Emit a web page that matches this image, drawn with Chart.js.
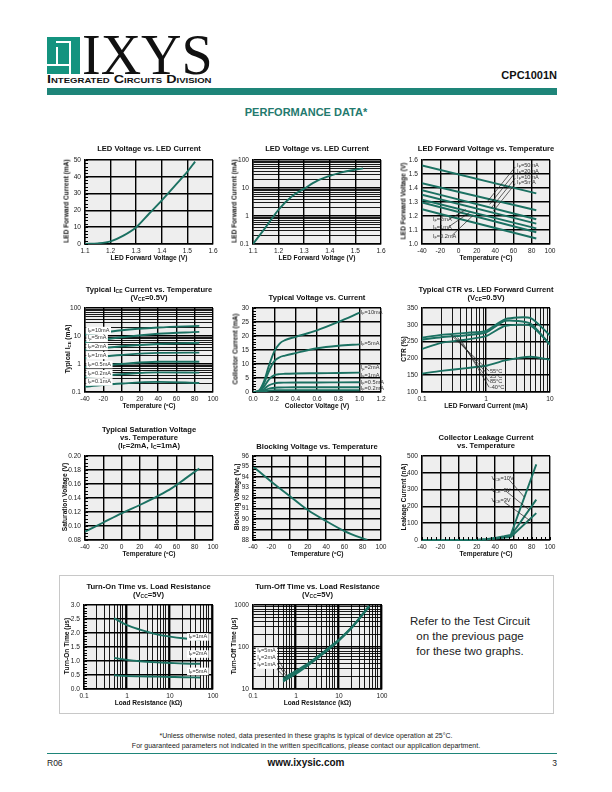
<!DOCTYPE html>
<html><head><meta charset="utf-8">
<title>CPC1001N Performance Data</title>
<script src="https://cdn.jsdelivr.net/npm/chart.js@4.4.1/dist/chart.umd.min.js"></script>
<style>
html,body{margin:0;padding:0}
body{width:612px;height:792px;position:relative;background:#fff;font-family:'Liberation Sans',Arial,Helvetica,sans-serif;overflow:hidden;color:#111}
.a{position:absolute;white-space:nowrap}
.ttl{font-weight:bold;font-size:7.6px;line-height:8.2px;text-align:center;transform:translateX(-50%)}
.xt{font-weight:bold;font-size:6.6px;transform:translate(-50%,-50%)}
.yt{font-weight:bold;font-size:6.6px;transform:translate(-50%,-50%) rotate(-90deg)}
sub{font-size:65%;vertical-align:-0.25em;line-height:0}
canvas{position:absolute}
.w{position:absolute;background:#fff}
</style></head><body>
<div class="a" id="logo" style="left:47px;top:37px;width:33px;height:37px;background:#14937f">
  <div class="w" style="left:9px;top:10px;width:2px;height:18px"></div>
  <div class="w" style="left:0px;top:27px;width:24px;height:2px"></div>
  <div class="w" style="left:22px;top:4px;width:2px;height:33px"></div>
  <div class="w" style="left:9px;top:4px;width:15px;height:2px"></div>
</div>
<div class="a" style="left:82px;top:27px;font-family:'Liberation Serif','Times New Roman',serif;font-size:56px;line-height:56px;color:#111">IXYS</div>
<div class="a" id="icd" style="left:47px;top:73px;font-weight:bold;font-size:10.5px;font-variant:small-caps;color:#111;transform-origin:left top">Integrated Circuits Division</div>
<div class="a" style="right:55px;top:69px;font-weight:bold;font-size:11px;color:#111">CPC1001N</div>
<div class="a" style="left:47px;top:88px;width:510px;height:7px;background:#1e8579"></div>
<div class="a" style="left:306px;top:106px;transform:translateX(-50%);font-weight:bold;font-size:11px;color:#237a6e">PERFORMANCE DATA*</div>

<div class="a" style="left:59px;top:575px;width:493px;height:137px;border:1px solid #c8c8c8"></div>
<div class="a" style="left:470px;top:614px;transform:translateX(-50%);text-align:center;font-size:11.5px;line-height:15px;color:#222">Refer to the Test Circuit<br>on the previous page<br>for these two graphs.</div>

<div class="a" style="left:306px;top:731px;transform:translateX(-50%);text-align:center;font-size:7px;line-height:10px;color:#222">*Unless otherwise noted, data presented in these graphs is typical of device operation at 25°C.<br>For guaranteed parameters not indicated in the written specifications, please contact our application department.</div>
<div class="a" style="left:47px;top:753px;width:510px;height:1px;background:#1e8579"></div>
<div class="a" style="left:47px;top:758px;font-size:8.5px;color:#222">R06</div>
<div class="a" style="left:306px;top:757px;transform:translateX(-50%);font-weight:bold;font-size:10px;color:#111">www.ixysic.com</div>
<div class="a" style="right:55px;top:758px;font-size:8.5px;color:#222">3</div>

<script>
// ================= DATA =================
// LED Voltage vs. LED Current (linear and log views)
const ledVoltage    = [1.1, 1.15, 1.2, 1.25, 1.3, 1.35, 1.4, 1.45, 1.5, 1.53];
const ledCurrent    = [0.1, 0.4, 1.6, 5, 10, 18, 26, 34.5, 43, 49];
const ledCurrentLog = [0.1, 0.4, 1.7, 4.9, 9.5, 18, 27, 37, 45, 50];

// LED Forward Voltage vs. Temperature
const vfTemp   = [-40, 85];
const vf50mA   = [1.561, 1.361];
const vf20mA   = [1.434, 1.241];
const vf10mA   = [1.384, 1.177];
const vf5mA    = [1.352, 1.145];
const vf2mA    = [1.316, 1.111];
const vf1mA    = [1.296, 1.084];
const vf02mA   = [1.248, 1.039];
const vfLabels = ['I{F}=50mA','I{F}=20mA','I{F}=10mA','I{F}=5mA','I{F}=2mA','I{F}=1mA','I{F}=0.2mA'];

// Typical ICE vs. Temperature
const iceTemp  = [-40, 0, 40, 85];
const ice10mA  = [11, 16, 20, 23];
const ice5mA   = [6, 9, 12, 14];
const ice2mA   = [3.2, 4.3, 5.2, 5.7];
const ice1mA   = [1.6, 2.1, 2.5, 2.55];
const ice05mA  = [0.77, 1.0, 1.2, 1.2];
const ice02mA  = [0.34, 0.43, 0.5, 0.49];
const ice01mA  = [0.155, 0.2, 0.23, 0.21];
const iceLabels = ['I{F}=10mA','I{F}=5mA','I{F}=2mA','I{F}=1mA','I{F}=0.5mA','I{F}=0.2mA','I{F}=0.1mA'];

// Typical Voltage vs. Current
const vceVolt  = [0, 0.05, 0.1, 0.15, 0.2, 0.25, 0.3, 0.4, 0.6, 0.8, 1.0];
const ic10mA   = [0, 0.3, 3.5, 9.5, 14.5, 17.3, 18.5, 19.7, 22, 25, 28.3];
const ic5mA    = [0, 0.3, 2.8, 7.5, 11, 12.4, 13, 13.9, 15.6, 16.5, 17];
const ic2mA    = [0, 0.2, 1.8, 4.5, 6.0, 6.4, 6.5, 6.6, 6.7, 6.8, 6.9];
const ic1mA    = [0, 0.1, 1.0, 2.4, 3.1, 3.3, 3.35, 3.4, 3.4, 3.45, 3.5];
const ic05mA   = [0, 0.05, 0.5, 1.2, 1.5, 1.6, 1.65, 1.7, 1.7, 1.7, 1.7];
const ic02mA   = [0, 0.02, 0.2, 0.5, 0.6, 0.65, 0.65, 0.65, 0.65, 0.65, 0.65];
const icLabels = ['I{F}=10mA','I{F}=5mA','I{F}=2mA','I{F}=1mA','I{F}=0.5mA','I{F}=0.2mA'];

// Typical CTR vs. LED Forward Current
const ctrIf    = [0.1, 0.2, 0.5, 1, 2, 5, 10];
const ctr55C   = [262, 270, 276, 282, 317, 320, 268];
const ctr25C   = [256, 263, 269, 277, 312, 303, 240];
const ctr85C   = [228, 246, 256, 266, 297, 297, 242];
const ctrM40C  = [155, 163, 171, 178, 194, 205, 196];
const ctrLabels = ['55°C','25°C','85°C','-40°C'];

// Typical Saturation Voltage vs. Temperature
const satTemp  = [-40, -20, 0, 20, 40, 55, 70, 85];
const satVolt  = [0.092, 0.105, 0.118, 0.13, 0.143, 0.154, 0.168, 0.182];

// Blocking Voltage vs. Temperature
const blkTemp  = [-40, -20, 0, 20, 40, 60, 80, 85];
const blkVolt  = [95, 93.55, 92.2, 90.85, 89.8, 88.85, 88.15, 88];

// Collector Leakage Current vs. Temperature
const lkTemp   = [-40, 0, 20, 30, 40, 50, 57, 85];
const lk10V    = [0, 0, 1, 5, 12, 22, 30, 450];
const lk5V     = [0, 0, 1, 4, 10, 18, 24, 240];
const lk3V     = [0, 0, 0.5, 3, 8, 14, 18, 160];
const lkLabels = ['V{CE}=10V','V{CE}=5V','V{CE}=3V'];

// Turn-On / Turn-Off Time vs. Load Resistance
const loadR    = [0.5, 1, 2, 5, 10, 20, 50];
const ton1mA   = [2.53, 2.28, 2.12, 1.95, 1.87, 1.81, 1.76];
const ton2mA   = [1.11, 1.04, 0.99, 0.95, 0.93, 0.91, 0.9];
const ton5mA   = [0.49, 0.46, 0.45, 0.44, 0.43, 0.42, 0.41];
const toff5mA  = [18, 27, 42, 85, 150, 300, 950];
const toff2mA  = [16.5, 25, 40, 82, 147, 295, 930];
const toff1mA  = [15, 23, 38, 78, 143, 290, 900];
const tLabels  = ['I{F}=1mA','I{F}=2mA','I{F}=5mA'];

// log-axis tick labels
const logLabels01to100  = [0.1, 1, 10, 100];
const logLabels01to10   = [0.1, 1, 10];
const logLabels10to1000 = [10, 100, 1000];

// ================= RENDERING =================
const FONT = "'Liberation Sans', Arial, Helvetica, sans-serif";
const TEAL = '#1b7162';
Chart.defaults.font.family = FONT;
Chart.defaults.color = '#222';

function pts(xs, ys){ return xs.map((x,i)=>({x:x, y:ys[i]})); }
function richParse(str){ const out=[]; const re=/([^{}]+)|\{([^}]*)\}/g; let m; while((m=re.exec(str))){ if(m[1]!==undefined) out.push({t:m[1],sub:false}); else out.push({t:m[2],sub:true}); } return out; }
function richHTML(str){ return str.replace(/\{([^}]*)\}/g,'<sub>$1</sub>'); }
function addDiv(cls, html, x, y){ const d=document.createElement('div'); d.className=cls; d.innerHTML=html; d.style.left=x+'px'; d.style.top=y+'px'; document.body.appendChild(d); return d; }

function drawRich(ctx, str, x, y, size, align, box){
  const segs=richParse(str);
  const fN=size+'px '+FONT, fS=(size*0.68).toFixed(2)+'px '+FONT;
  let w=0; segs.forEach(s=>{ctx.font=s.sub?fS:fN; s.w=ctx.measureText(s.t).width; w+=s.w;});
  let cx = align==='right'? x-w : align==='center'? x-w/2 : x;
  if(box){ ctx.fillStyle='#fff'; ctx.fillRect(cx-1.5, y-size*0.62, w+3, size*1.35); }
  ctx.fillStyle='#333'; ctx.textBaseline='middle'; ctx.textAlign='left';
  segs.forEach(s=>{ ctx.font=s.sub?fS:fN; ctx.fillText(s.t, cx, s.sub? y+size*0.28 : y); cx+=s.w; });
}

const plotBg = { id:'plotBg', beforeDraw(chart){ const a=chart.chartArea, c=chart.ctx; c.save(); c.fillStyle='#eeeeee'; c.fillRect(a.left,a.top,a.right-a.left,a.bottom-a.top); c.restore(); } };

const notes = { id:'notes', afterDatasetsDraw(chart, args, o){
  const c=chart.ctx, X=chart.scales.x, Y=chart.scales.y, a=chart.chartArea;
  c.save();
  c.strokeStyle='#000'; c.lineWidth=1;
  if(o.minorY){ for(let v=Y.min; v<=Y.max+1e-9; v+=o.minorY){ const p=Math.round(Y.getPixelForValue(v))+0.5; c.beginPath(); c.moveTo(a.left,p); c.lineTo(a.left+3,p); c.stroke(); } }
  if(o.minorX){ for(let v=X.min; v<=X.max+1e-9; v+=o.minorX){ const p=Math.round(X.getPixelForValue(v))+0.5; c.beginPath(); c.moveTo(p,a.bottom); c.lineTo(p,a.bottom-3); c.stroke(); } }
  c.lineWidth=0.7; c.strokeStyle='#222';
  (o.lines||[]).forEach(l=>{ c.beginPath(); c.moveTo(X.getPixelForValue(l[0]),Y.getPixelForValue(l[1])); c.lineTo(X.getPixelForValue(l[2]),Y.getPixelForValue(l[3])); c.stroke(); });
  (o.texts||[]).forEach(t=>{ drawRich(c, t[2], X.getPixelForValue(t[0]), Y.getPixelForValue(t[1]), o.size||5.6, t[3]||'left', o.box); });
  c.restore();
}};

const tickFont = {size:6.6, family:FONT};
function fitX(s){ s.height=14; }
function fitY(s){ s.width=26; }
function linAxis(axis, min, max, step, dec){
  return { type:'linear', min:min, max:max,
    ticks:{ stepSize:step, autoSkip:false, maxRotation:0, font:tickFont, color:'#222', padding: axis==='x'?3:4, callback:(v)=>Number(v).toFixed(dec) },
    grid:{ color:'#000', lineWidth:1.4, drawTicks:false },
    border:{ display:true, color:'#000', width:1.4 },
    afterFit: axis==='x'? fitX : fitY };
}
function logAxis(axis, min, max, labels){
  const find=(v)=>labels.find(l=>Math.abs(l-v)<=l*1e-6);
  return { type:'logarithmic', min:min, max:max,
    afterBuildTicks:(s)=>{ const t=[]; for(let e=Math.round(Math.log10(min)); e<Math.round(Math.log10(max)); e++){ for(let k=1;k<10;k++) t.push({value:+(k*Math.pow(10,e)).toPrecision(6)}); } t.push({value:max}); s.ticks=t; },
    ticks:{ autoSkip:false, maxRotation:0, font:tickFont, color:'#222', padding: axis==='x'?3:4, callback:(v)=>{ const l=find(v); return l===undefined?'':String(l); } },
    grid:{ color:'#000', lineWidth:(ctx)=> (ctx.tick && find(ctx.tick.value)!==undefined)?1.4:0.9, drawTicks:false },
    border:{ display:true, color:'#000', width:1.4 },
    afterFit: axis==='x'? fitX : fitY };
}
function ds(xs, ys, extra){ return Object.assign({ data:pts(xs,ys), borderColor:TEAL, borderWidth:1.9, pointRadius:0, fill:false, tension:0.35, cubicInterpolationMode:'monotone' }, extra||{}); }

function makeChart(d){
  const [x0,y0,x1,y1]=d.plot; const L=26, T=6, R=10, B=14;
  const cv=document.createElement('canvas');
  cv.width=(x1-x0)+L+R; cv.height=(y1-y0)+T+B;
  cv.style.left=(x0-L)+'px'; cv.style.top=(y0-T)+'px';
  cv.style.width=cv.width+'px'; cv.style.height=cv.height+'px';
  document.body.appendChild(cv);
  new Chart(cv, { type:'line', data:{datasets:d.datasets},
    options:{ responsive:false, animation:false, devicePixelRatio:1, events:[],
      layout:{ padding:{top:T,right:R,left:0,bottom:0}, autoPadding:false },
      plugins:{ legend:{display:false}, tooltip:{enabled:false}, notes:d.notes||{} },
      scales:{ x:d.x, y:d.y } },
    plugins:[plotBg, notes] });
  const cx=(x0+x1)/2;
  addDiv('a ttl', richHTML(d.title), cx, d.titleTop);
  addDiv('a xt', richHTML(d.xTitle), cx, y1+13);
  addDiv('a yt', richHTML(d.yTitle), x0-(d.yDx||18), (y0+y1)/2);
}

const C1=[85,213], C2=[253,381], C3=[422,550];
const R1=[158,244], R2=[306,392], R3=[454,540], R4=[603,689];

makeChart({ plot:[C1[0],R1[0],C1[1],R1[1]], title:'LED Voltage vs. LED Current', titleTop:145,
  xTitle:'LED Forward Voltage (V)', yTitle:'LED Forward Current (mA)', yDx:19,
  x:linAxis('x',1.1,1.6,0.1,1), y:linAxis('y',0,50,10,0),
  datasets:[ds(ledVoltage, ledCurrent)], notes:{minorY:2} });

makeChart({ plot:[C2[0],R1[0],C2[1],R1[1]], title:'LED Voltage vs. LED Current', titleTop:145,
  xTitle:'LED Forward Voltage (V)', yTitle:'LED Forward Current (mA)', yDx:19,
  x:linAxis('x',1.1,1.6,0.1,1), y:logAxis('y',0.1,100,logLabels01to100),
  datasets:[ds(ledVoltage, ledCurrentLog)] });

makeChart({ plot:[C3[0],R1[0],C3[1],R1[1]], title:'LED Forward Voltage vs. Temperature', titleTop:145,
  xTitle:'Temperature (ºC)', yTitle:'LED Forward Voltage (V)', yDx:19,
  x:linAxis('x',-40,100,20,0), y:linAxis('y',1.0,1.6,0.1,1),
  datasets:[vf50mA,vf20mA,vf10mA,vf5mA,vf2mA,vf1mA,vf02mA].map(v=>ds(vfTemp,v,{tension:0})),
  notes:{ texts:[[64,1.559,vfLabels[0]],[64,1.518,vfLabels[1]],[64,1.478,vfLabels[2]],[64,1.439,vfLabels[3]],
                 [-28,1.173,vfLabels[4]],[-28,1.116,vfLabels[5]],[-28,1.055,vfLabels[6]]],
          lines:[[62,1.55,32,1.307],[62,1.51,34,1.283],[62,1.47,36,1.259],[62,1.43,38,1.235],
                 [-10,1.178,8,1.245],[-11,1.122,12,1.225],[-7,1.062,16,1.205]] } });

makeChart({ plot:[C1[0],R2[0],C1[1],R2[1]], title:'Typical I{CE} Current vs. Temperature<br>(V{CE}=0.5V)', titleTop:286,
  xTitle:'Temperature (ºC)', yTitle:'Typical I{CE} (mA)', yDx:18,
  x:linAxis('x',-40,100,20,0), y:logAxis('y',0.1,100,logLabels01to100),
  datasets:[ice10mA,ice5mA,ice2mA,ice1mA,ice05mA,ice02mA,ice01mA].map(v=>ds(iceTemp,v)),
  notes:{ box:true, texts:[[-37,16,iceLabels[0]],[-37,8.5,iceLabels[1]],[-37,4.3,iceLabels[2]],[-37,2.05,iceLabels[3]],
                           [-37,0.98,iceLabels[4]],[-37,0.46,iceLabels[5]],[-37,0.235,iceLabels[6]]] } });

makeChart({ plot:[C2[0],R2[0],C2[1],R2[1]], title:'Typical Voltage vs. Current', titleTop:294,
  xTitle:'Collector Voltage (V)', yTitle:'Collector Current (mA)', yDx:18,
  x:linAxis('x',0,1.2,0.2,1), y:linAxis('y',0,30,5,0),
  datasets:[ic10mA,ic5mA,ic2mA,ic1mA,ic05mA,ic02mA].map(v=>ds(vceVolt,v)),
  notes:{ minorY:1, texts:[[1.01,28.5,icLabels[0]],[1.01,17.2,icLabels[1]],[1.01,8.6,icLabels[2]],[1.01,5.8,icLabels[3]],[1.01,3.4,icLabels[4]],[1.01,1.4,icLabels[5]]] } });

makeChart({ plot:[C3[0],R2[0],C3[1],R2[1]], title:'Typical CTR vs. LED Forward Current<br>(V{CE}=0.5V)', titleTop:286,
  xTitle:'LED Forward Current (mA)', yTitle:'CTR (%)', yDx:19,
  x:logAxis('x',0.1,10,logLabels01to10), y:linAxis('y',100,350,50,0),
  datasets:[ctr55C,ctr25C,ctr85C,ctrM40C].map(v=>ds(ctrIf,v,{tension:0.2,cubicInterpolationMode:'default'})),
  notes:{ texts:[[1.15,162,ctrLabels[0]],[1.15,147,ctrLabels[1]],[1.15,131,ctrLabels[2]],[1.15,114,ctrLabels[3]]],
          lines:[[0.28,271,1.12,162],[0.32,266,1.12,147],[0.36,262,1.12,131],[0.40,257,1.12,114]] } });

makeChart({ plot:[C1[0],R3[0],C1[1],R3[1]], title:'Typical Saturation Voltage<br>vs. Temperature<br>(I{F}=2mA, I{C}=1mA)', titleTop:426,
  xTitle:'Temperature (ºC)', yTitle:'Saturation Voltage (V)', yDx:21,
  x:linAxis('x',-40,100,20,0), y:linAxis('y',0.08,0.20,0.02,2),
  datasets:[ds(satTemp, satVolt)], notes:{minorY:0.005} });

makeChart({ plot:[C2[0],R3[0],C2[1],R3[1]], title:'Blocking Voltage vs. Temperature', titleTop:443,
  xTitle:'Temperature (ºC)', yTitle:'Blocking Voltage (V{B})', yDx:17,
  x:linAxis('x',-40,100,20,0), y:linAxis('y',88,96,1,0),
  datasets:[ds(blkTemp, blkVolt)], notes:{minorY:0.25} });

makeChart({ plot:[C3[0],R3[0],C3[1],R3[1]], title:'Collector Leakage Current<br>vs. Temperature', titleTop:434,
  xTitle:'Temperature (ºC)', yTitle:'Leakage Current (nA)', yDx:19,
  x:linAxis('x',-40,100,20,0), y:linAxis('y',0,500,100,0),
  datasets:[lk10V,lk5V,lk3V].map(v=>ds(lkTemp,v,{tension:0,cubicInterpolationMode:'default',clip:3})),
  notes:{ minorX:5, texts:[[36,368,lkLabels[0]],[36,296,lkLabels[1]],[36,234,lkLabels[2]]],
          lines:[[55,360,72,255],[52,290,77,180],[50,225,79,112]] } });

makeChart({ plot:[84,R4[0],213,R4[1]], title:'Turn-On Time vs. Load Resistance<br>(V{CC}=5V)', titleTop:583,
  xTitle:'Load Resistance (kΩ)', yTitle:'Turn-On Time (µs)', yDx:18,
  x:logAxis('x',0.1,100,logLabels01to100), y:linAxis('y',0,3,0.5,1),
  datasets:[ton1mA,ton2mA,ton5mA].map(v=>ds(loadR,v)),
  notes:{ box:true, minorY:0.1, texts:[[27,1.87,tLabels[0]],[27,1.26,tLabels[1]],[27,0.64,tLabels[2]]] } });

makeChart({ plot:[253,R4[0],382,R4[1]], title:'Turn-Off Time vs. Load Resistance<br>(V{CC}=5V)', titleTop:583,
  xTitle:'Load Resistance (kΩ)', yTitle:'Turn-Off Time (µs)', yDx:20,
  x:logAxis('x',0.1,100,logLabels01to100), y:logAxis('y',10,1000,logLabels10to1000),
  datasets:[toff5mA,toff2mA,toff1mA].map(v=>ds(loadR,v)),
  notes:{ box:true, texts:[[0.125,81,'I{F}=5mA'],[0.125,55,'I{F}=2mA'],[0.125,37.5,'I{F}=1mA']],
          lines:[[0.3,78,0.6,23],[0.3,53,0.6,20],[0.3,36,0.58,18]] } });

// fit the division line under the IXYS word mark
const icd=document.getElementById('icd'); icd.style.transform='scaleX('+(165/icd.offsetWidth)+')';
</script>
</body></html>
